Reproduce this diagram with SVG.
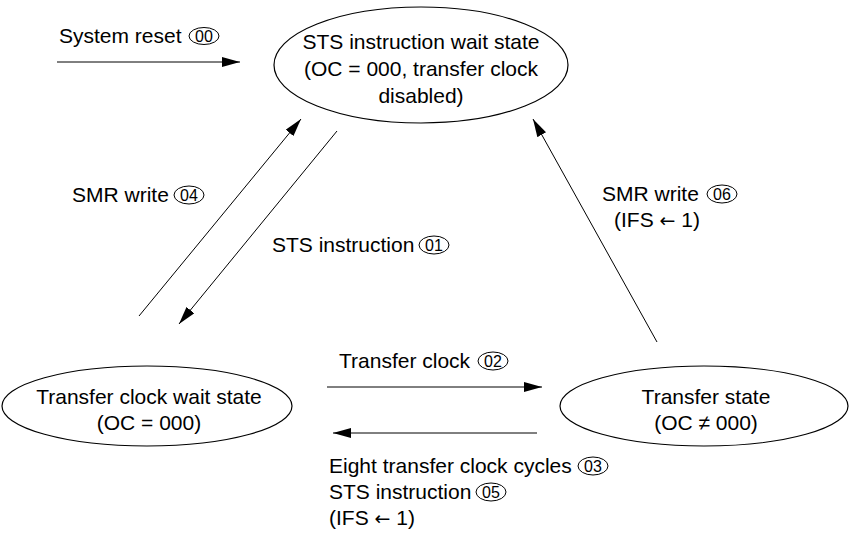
<svg xmlns="http://www.w3.org/2000/svg" width="851" height="540" viewBox="0 0 851 540">
<defs>
<marker id="arr" markerUnits="userSpaceOnUse" markerWidth="20" markerHeight="10" refX="18" refY="5" orient="auto">
<path d="M0,0 L18,5 L0,10 z" fill="#000"/>
</marker>
<style>
.t{font-family:"Liberation Sans",Arial,sans-serif;font-size:21px;fill:#000}
.c{font-family:"Liberation Sans",Arial,sans-serif;font-size:16px;fill:#000;text-anchor:middle}
.a{font-family:"DejaVu Sans",sans-serif;font-size:19px}
.n{fill:#fff;stroke:#000;stroke-width:1.2}
.o{fill:none;stroke:#000;stroke-width:1}
.e{stroke:#000;stroke-width:1;fill:none;marker-end:url(#arr)}
.m{text-anchor:middle}
</style>
</defs>
<rect width="851" height="540" fill="#fff"/>
<g id="n-sts-wait">
<ellipse class="n" cx="421" cy="65" rx="147" ry="58"/>
<text class="t m" x="421" y="49">STS instruction wait state</text>
<text class="t m" x="421" y="76">(OC = 000, transfer clock</text>
<text class="t m" x="421" y="103">disabled)</text>
</g>
<g id="n-clock-wait">
<ellipse class="n" cx="147" cy="406" rx="145" ry="40"/>
<text class="t m" x="149" y="404">Transfer clock wait state</text>
<text class="t m" x="149" y="430">(OC = 000)</text>
</g>
<g id="n-transfer">
<ellipse class="n" cx="704" cy="406" rx="144" ry="40"/>
<text class="t m" x="706" y="404">Transfer state</text>
<text class="t m" x="706" y="430">(OC ≠ 000)</text>
</g>
<g id="connectors">
<line class="e" x1="57" y1="62" x2="240" y2="62"/>
<line class="e" x1="139" y1="316" x2="301" y2="119"/>
<line class="e" x1="337" y1="131" x2="179" y2="324"/>
<line class="e" x1="657" y1="342" x2="533" y2="119"/>
<line class="e" x1="327" y1="387" x2="542" y2="387"/>
<line class="e" x1="537" y1="433" x2="333" y2="433"/>
</g>
<g id="labels">
<text class="t" x="59" y="43">System reset</text>
<ellipse class="o" cx="204" cy="36" rx="15" ry="8.5"/>
<text class="c" x="204" y="42">00</text>

<text class="t" x="72" y="202">SMR write</text>
<ellipse class="o" cx="189" cy="195" rx="15" ry="9"/>
<text class="c" x="189" y="201">04</text>

<text class="t" x="272" y="252">STS instruction</text>
<ellipse class="o" cx="434" cy="245" rx="15" ry="9"/>
<text class="c" x="434" y="251">01</text>

<text class="t" x="602" y="201">SMR write</text>
<ellipse class="o" cx="722" cy="194" rx="15" ry="9"/>
<text class="c" x="722" y="200">06</text>
<text class="t" x="614" y="227">(IFS <tspan class="a">←</tspan> 1)</text>

<text class="t" x="339" y="368">Transfer clock</text>
<ellipse class="o" cx="493" cy="361" rx="15" ry="9"/>
<text class="c" x="493" y="367">02</text>

<text class="t" x="329" y="473">Eight transfer clock cycles</text>
<ellipse class="o" cx="593" cy="466" rx="15" ry="9"/>
<text class="c" x="593" y="472">03</text>
<text class="t" x="329" y="499">STS instruction</text>
<ellipse class="o" cx="491" cy="492" rx="15" ry="9"/>
<text class="c" x="491" y="498">05</text>
<text class="t" x="329" y="525">(IFS <tspan class="a">←</tspan> 1)</text>
</g>
</svg>
